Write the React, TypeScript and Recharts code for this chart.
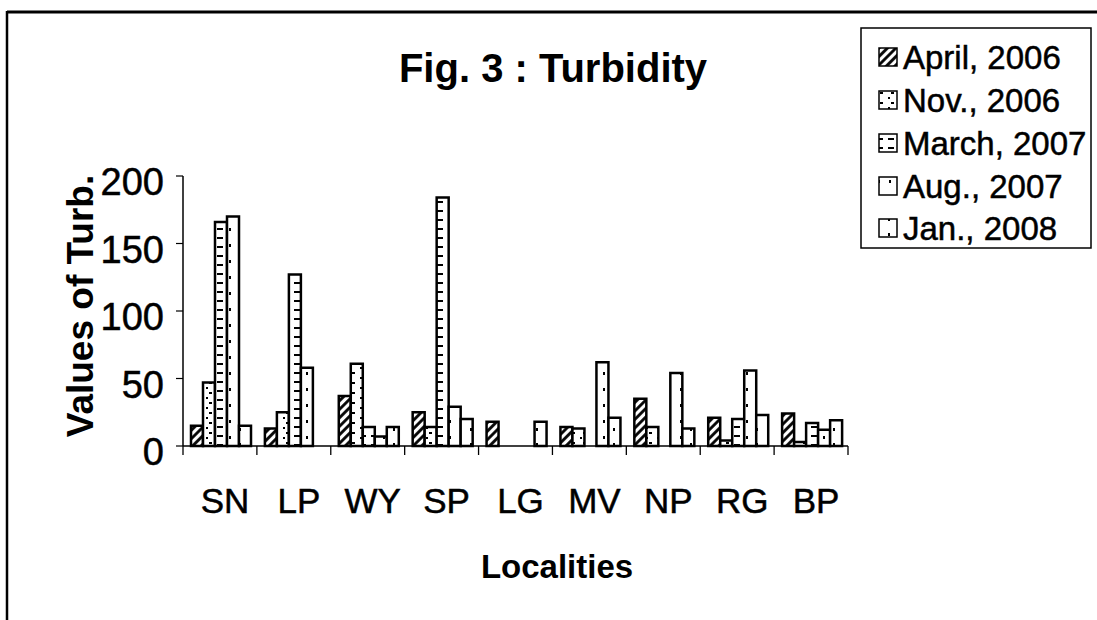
import React from 'react';
import { BarChart, Bar, XAxis, YAxis } from 'recharts';

const localities = ['SN', 'LP', 'WY', 'SP', 'LG', 'MV', 'NP', 'RG', 'BP'];
const april2006 = [15, 13, 37, 25, 18, 14, 35, 21, 24];
const nov2006 = [47, 25, 61, 14, 0, 13, 14, 4, 3];
const march2007 = [166, 127, 14, 184, 0, 0, 0, 20, 17];
const aug2007 = [170, 58, 7, 29, 0, 62, 54, 56, 12];
const jan2008 = [15, 0, 14, 20, 18, 21, 13, 23, 19];
const yTicks = [0, 50, 100, 150, 200];

const seriesNames = ['April, 2006', 'Nov., 2006', 'March, 2007', 'Aug., 2007', 'Jan., 2008'];
const seriesKeys = ['april2006', 'nov2006', 'march2007', 'aug2007', 'jan2008'];
const patternIds = ['patApr', 'patNov', 'patMar', 'patAug', 'patJan'];

const data = localities.map((name, i) => ({
  name,
  april2006: april2006[i],
  nov2006: nov2006[i],
  march2007: march2007[i],
  aug2007: aug2007[i],
  jan2008: jan2008[i],
}));

const FONT = '"Liberation Sans", Arial, Helvetica, sans-serif';
const TXT = { fontFamily: FONT, fill: '#000', stroke: '#000', strokeWidth: 0.5 };

const YTick = (props: any) => {
  const { x, y, payload } = props;
  return (
    <text x={x} y={y} dy={19} textAnchor="end" fontSize={38} {...TXT}>
      {payload.value}
    </text>
  );
};

const XTick = (props: any) => {
  const { x, y, payload, index } = props;
  const off = payload && payload.offset != null ? payload.offset : 36.9;
  const last = index === localities.length - 1;
  return (
    <g>
      <line x1={x - off} y1={y} x2={x - off} y2={y + 9} stroke="#000" strokeWidth={1.3} />
      {last && <line x1={x + off} y1={y} x2={x + off} y2={y + 9} stroke="#000" strokeWidth={1.3} />}
      <text x={x + 5} y={y} dy={67} textAnchor="middle" fontSize={35} {...TXT}>
        {payload.value}
      </text>
    </g>
  );
};

const Patterns = () => (
  <svg width={0} height={0} style={{ position: 'absolute' }}>
    <defs>
      <pattern id="patApr" patternUnits="userSpaceOnUse" width={6} height={6} patternTransform="rotate(45)">
        <rect width={6} height={6} fill="#fff" />
        <line x1={1.5} y1={0} x2={1.5} y2={6} stroke="#000" strokeWidth={2.8} />
      </pattern>
      <pattern id="patNov" patternUnits="userSpaceOnUse" width={11} height={10}>
        <rect width={11} height={10} fill="#fff" />
        <rect x={0} y={2} width={3} height={2} fill="#000" />
        <rect x={8} y={7} width={2} height={2} fill="#000" />
      </pattern>
      <pattern id="patMar" patternUnits="userSpaceOnUse" width={11} height={9}>
        <rect width={11} height={9} fill="#fff" />
        <rect x={0} y={3} width={3} height={2} fill="#000" />
        <rect x={8} y={3} width={3} height={2} fill="#000" />
      </pattern>
      <pattern id="patAug" patternUnits="userSpaceOnUse" width={11} height={16}>
        <rect width={11} height={16} fill="#fff" />
        <rect x={9} y={4} width={2} height={3} fill="#000" />
      </pattern>
      <pattern id="patJan" patternUnits="userSpaceOnUse" width={11} height={15}>
        <rect width={11} height={15} fill="#fff" />
        <rect x={8} y={8} width={2} height={3} fill="#000" />
      </pattern>
    </defs>
  </svg>
);

export default function App() {
  const legendTop = 28;
  const rowCenters = [57, 100, 143, 186, 228];
  return (
    <div style={{ position: 'fixed', left: 0, top: 0, width: 1097, height: 620, overflow: 'hidden', background: '#fff' }}>
      <Patterns />
      <div style={{ position: 'absolute', left: 0, top: 0 }}>
        <BarChart
          width={1097}
          height={620}
          data={data}
          margin={{ top: 176, right: 249, bottom: 74, left: 0 }}
          barCategoryGap={8}
          barGap={0}
        >
          <YAxis
            width={183}
            domain={[0, 200]}
            ticks={yTicks}
            interval={0}
            tickSize={7}
            tickMargin={12}
            tick={<YTick />}
            axisLine={{ stroke: '#000', strokeWidth: 1.5 }}
            tickLine={{ stroke: '#000', strokeWidth: 1.2 }}
          />
          <XAxis
            dataKey="name"
            height={100}
            interval={0}
            tickSize={0}
            tickMargin={0}
            tickLine={false}
            tick={<XTick />}
            axisLine={{ stroke: '#000', strokeWidth: 1.5 }}
          />
          {seriesKeys.map((k, i) => (
            <Bar
              key={k}
              dataKey={k}
              name={seriesNames[i]}
              fill={`url(#${patternIds[i]})`}
              stroke="#000"
              strokeWidth={2.5}
              isAnimationActive={false}
            />
          ))}
        </BarChart>
      </div>
      <svg width={1097} height={620} style={{ position: 'absolute', left: 0, top: 0, pointerEvents: 'none' }}>
        <line x1={7} y1={12} x2={1097} y2={12} stroke="#000" strokeWidth={3} />
        <line x1={7} y1={11} x2={7} y2={620} stroke="#000" strokeWidth={2.5} />
        <text x={553} y={82} textAnchor="middle" fontSize={40} fontWeight="bold" fontFamily={FONT} fill="#000">
          Fig. 3 : Turbidity
        </text>
        <g transform="translate(80,306) rotate(-90)">
          <text x={0} y={13} textAnchor="middle" fontSize={37} fontWeight="bold" fontFamily={FONT} fill="#000">
            Values of Turb.
          </text>
        </g>
        <text x={557} y={578} textAnchor="middle" fontSize={33} fontWeight="bold" fontFamily={FONT} fill="#000">
          Localities
        </text>
        <rect x={861} y={legendTop} width={230} height={220} fill="#fff" stroke="#000" strokeWidth={1.5} />
        {seriesNames.map((n, i) => (
          <g key={n}>
            <rect x={879} y={rowCenters[i] - 9} width={18} height={18} fill={`url(#${patternIds[i]})`} stroke="#000" strokeWidth={1.5} />
            <text x={903} y={rowCenters[i] + 12} fontSize={33} {...TXT}>
              {n}
            </text>
          </g>
        ))}
      </svg>
    </div>
  );
}
